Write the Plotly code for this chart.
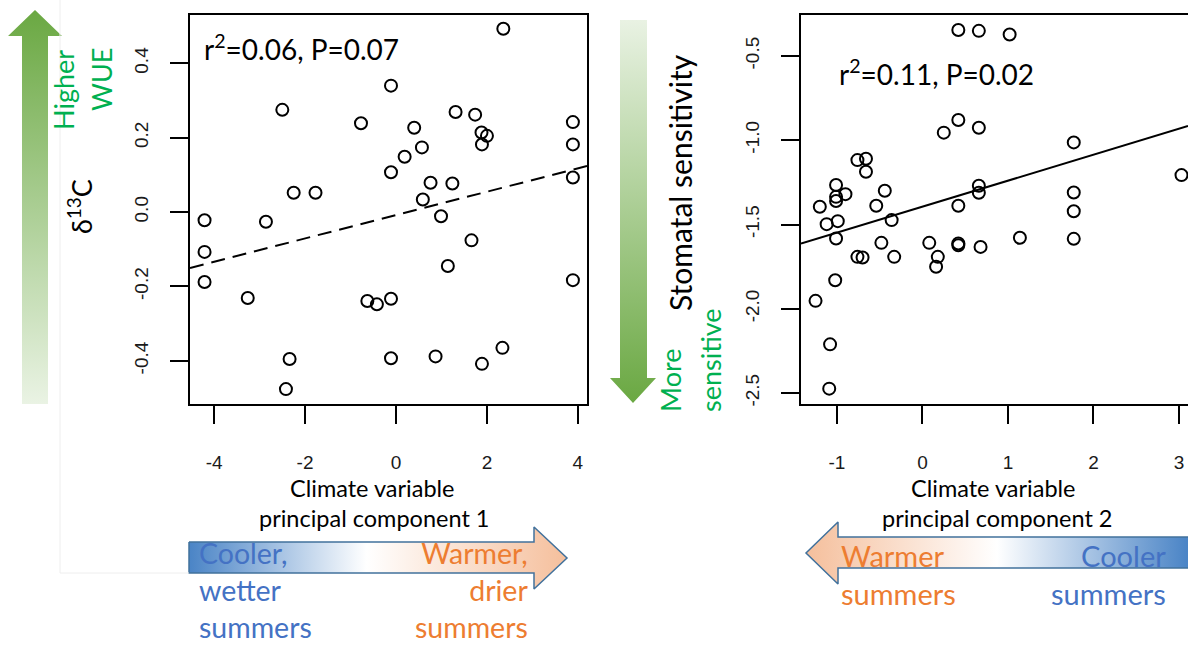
import plotly.graph_objects as go

# ---------------- data ----------------
pc1 = [-4.21, -4.21, -4.21, -2.50, -3.26, -2.86, -2.25, -1.77, -2.34, -2.42,
       -0.77, -0.11, -0.11, -0.63, -0.42, -0.11, -0.11, 0.19, 0.40, 0.57,
       0.59, 0.76, 0.99, 0.87, 1.14, 1.24, 1.31, 1.66, 1.74, 1.88,
       1.89, 2.00, 1.89, 2.34, 2.36, 3.89, 3.89, 3.89, 3.89]
d13c = [-0.022, -0.107, -0.188, 0.275, -0.231, -0.026, 0.052, 0.052, -0.395, -0.476,
        0.239, 0.340, 0.107, -0.239, -0.248, -0.233, -0.393, 0.149, 0.227, 0.174,
        0.034, 0.079, -0.011, -0.388, -0.145, 0.077, 0.269, -0.076, 0.262, 0.214,
        0.182, 0.205, -0.408, -0.365, 0.493, 0.242, 0.182, 0.093, -0.183]

pc2 = [0.42, 0.66, 1.02, 0.42, 0.25, 0.66, 1.77, 1.77, 1.77, 1.77,
       3.03, -0.76, -0.66, -0.66, -1.01, -0.90, -1.01, -1.01, -0.44, -0.54,
       -1.20, -1.12, -0.99, -0.36, -1.01, -0.48, -0.76, -0.70, -0.33, -1.02,
       -1.25, -1.08, -1.09, 0.08, 0.18, 0.16, 0.42, 0.42, 0.42, 0.66,
       0.66, 0.68, 1.14]
stom = [-0.346, -0.351, -0.373, -0.880, -0.955, -0.926, -1.013, -1.310, -1.421, -1.585,
        -1.207, -1.118, -1.110, -1.187, -1.266, -1.320, -1.336, -1.361, -1.300, -1.389,
        -1.395, -1.498, -1.480, -1.474, -1.583, -1.609, -1.692, -1.696, -1.692, -1.831,
        -1.953, -2.211, -2.474, -1.609, -1.692, -1.751, -1.389, -1.613, -1.623, -1.270,
        -1.312, -1.633, -1.579]

fit1_slope, fit1_intercept = 0.0314, -0.008
fit2_slope, fit2_intercept = 0.154, -1.394

x1_ticks = [-4, -2, 0, 2, 4]
x1_ticklabels = ["-4", "-2", "0", "2", "4"]
y1_ticks = [-0.4, -0.2, 0.0, 0.2, 0.4]
y1_ticklabels = ["-0.4", "-0.2", "0.0", "0.2", "0.4"]
x2_ticks = [-1, 0, 1, 2, 3]
x2_ticklabels = ["-1", "0", "1", "2", "3"]
y2_ticks = [-2.5, -2.0, -1.5, -1.0, -0.5]
y2_ticklabels = ["-2.5", "-2.0", "-1.5", "-1.0", "-0.5"]

stat1 = "r<sup>2</sup>=0.06, P=0.07"
stat2 = "r<sup>2</sup>=0.11, P=0.02"

# ---------------- layout constants ----------------
W, H = 1188, 645
X1_RANGE = [-4.53, 4.20]
Y1_RANGE = [-0.516, 0.530]
X2_RANGE = [-1.42, 3.106]
Y2_RANGE = [-2.565, -0.257]

GREEN_TXT = "#00b050"
BLUE_TXT = "#4472c4"
ORANGE_TXT = "#ed7d31"
TXT_FONT = "Lato, 'Open Sans', sans-serif"
TICK_FONT = "'Liberation Sans', Arial, sans-serif"


def px_x(v):
    return v / W


def px_y(v):
    return 1 - v / H


fig = go.Figure()

# ---------- decorative arrows (pixel coordinate overlay axis) ----------
def arrow_trace(xs, ys, gtype, cs, start, stop, line_color=None, lw=0):
    return go.Scatter(
        x=xs + [xs[0]], y=ys + [ys[0]], mode="lines", fill="toself",
        fillgradient=dict(type=gtype, colorscale=cs, start=start, stop=stop),
        line=dict(color=line_color or "rgba(0,0,0,0)", width=lw),
        xaxis="x3", yaxis="y3", hoverinfo="skip", showlegend=False)

# left vertical green arrow (pointing up)
fig.add_trace(arrow_trace(
    [22, 48, 48, 62, 35, 8, 22], [404, 404, 36, 36, 10, 36, 36],
    "vertical", [[0, "#6aa842"], [1, "#eaf3e4"]], 10, 404))
# right vertical green arrow (pointing down)
fig.add_trace(arrow_trace(
    [620, 647, 647, 656, 633, 610, 620], [20, 20, 378, 378, 403, 378, 378],
    "vertical", [[0, "#e9f2e3"], [1, "#6aa842"]], 20, 403))
# left horizontal arrow (pointing right)
fig.add_trace(arrow_trace(
    [189, 534, 534, 567, 534, 534, 189], [542, 542, 527, 558, 589, 573, 573],
    "horizontal", [[0, "#4a84c6"], [0.47, "#ffffff"], [1, "#f5bf9c"]], 189, 567,
    line_color="#41719c", lw=1.5))
# right horizontal arrow (pointing left)
fig.add_trace(arrow_trace(
    [1190, 838, 838, 806, 838, 838, 1190], [537, 537, 522, 553, 584, 568, 568],
    "horizontal", [[0, "#f5bf9c"], [0.5, "#ffffff"], [1, "#4a84c6"]], 806, 1188,
    line_color="#41719c", lw=1.5))

# faint image-border remnants
fig.add_trace(go.Scatter(x=[60, 60, 189], y=[0, 573, 573], mode="lines",
                         line=dict(color="#eeeeee", width=1),
                         xaxis="x3", yaxis="y3", hoverinfo="skip", showlegend=False))

# ---------- scatter plots ----------
marker = dict(symbol="circle-open", size=12, color="black", line=dict(width=2, color="black"))
fig.add_trace(go.Scatter(x=pc1, y=d13c, mode="markers", marker=marker,
                         xaxis="x", yaxis="y", showlegend=False))
fig.add_trace(go.Scatter(x=pc2, y=stom, mode="markers", marker=marker,
                         xaxis="x2", yaxis="y2", showlegend=False))

fx1 = [X1_RANGE[0], X1_RANGE[1]]
fig.add_trace(go.Scatter(x=fx1, y=[fit1_intercept + fit1_slope * v for v in fx1],
                         mode="lines", line=dict(color="black", width=2, dash="14px,8px"),
                         xaxis="x", yaxis="y", showlegend=False))
fx2 = [X2_RANGE[0], X2_RANGE[1]]
fig.add_trace(go.Scatter(x=fx2, y=[fit2_intercept + fit2_slope * v for v in fx2],
                         mode="lines", line=dict(color="black", width=2),
                         xaxis="x2", yaxis="y2", showlegend=False))

axis_common = dict(showgrid=False, zeroline=False, showline=True, linewidth=2,
                   linecolor="black", ticks="outside", ticklen=18, tickwidth=2,
                   tickcolor="black", automargin=False,
                   tickfont=dict(family=TICK_FONT, size=19, color="#1a1a1a"))

fig.update_layout(
    width=W, height=H, margin=dict(l=0, r=0, t=0, b=0),
    paper_bgcolor="white", plot_bgcolor="rgba(0,0,0,0)", showlegend=False,
    xaxis=dict(domain=[px_x(190), px_x(587)], range=X1_RANGE, tickvals=x1_ticks,
               ticktext=x1_ticklabels, mirror=True, anchor="y", ticklabelstandoff=22,
               **axis_common),
    yaxis=dict(domain=[px_y(404), px_y(15)], range=Y1_RANGE, tickvals=y1_ticks,
               ticktext=y1_ticklabels, tickangle=-90, mirror=True, anchor="x",
               ticklabelstandoff=14, **axis_common),
    xaxis2=dict(domain=[px_x(801), 1.0], range=X2_RANGE, tickvals=x2_ticks,
                ticktext=x2_ticklabels, mirror=True, anchor="y2", ticklabelstandoff=22,
                **axis_common),
    yaxis2=dict(domain=[px_y(404), px_y(15)], range=Y2_RANGE, tickvals=y2_ticks,
                ticktext=y2_ticklabels, tickangle=-90, mirror=False, anchor="x2",
                ticklabelstandoff=14, **axis_common),
    xaxis3=dict(domain=[0, 1], range=[0, W], visible=False, anchor="y3", fixedrange=True),
    yaxis3=dict(domain=[0, 1], range=[H, 0], visible=False, anchor="x3", fixedrange=True),
)


def ann(text, x, y, color="black", size=28, angle=0, xanchor="center",
        yanchor="middle", family=TXT_FONT):
    # x, y given in page pixels; placed in paper coordinates so they never get hidden
    fig.add_annotation(text=text, x=px_x(x), y=px_y(y), xref="paper", yref="paper",
                       showarrow=False, textangle=angle, xanchor=xanchor,
                       yanchor=yanchor, borderpad=0,
                       align=xanchor if xanchor != "center" else "center",
                       font=dict(family=family, size=size, color=color))


# stats
ann(stat1, 203, 47, xanchor="left", size=28)
ann(stat2, 838, 72, xanchor="left", size=28)

# left side axis labels
ann("Higher", 63, 90, GREEN_TXT, 27, -90)
ann("WUE", 101, 80, GREEN_TXT, 27, -90)
ann("δ<sup>13</sup>C", 80, 207, "black", 27, -90)

# right side axis labels
ann("Stomatal sensitivity", 680, 182, "black", 30, -90)
ann("More", 670, 380, GREEN_TXT, 27, -90)
ann("sensitive", 710, 360, GREEN_TXT, 27, -90)

# x axis titles
ann("Climate variable", 372, 488, "black", 23.5)
ann("principal component 1", 374, 518, "black", 23.5)
ann("Climate variable", 993, 488, "black", 23.5)
ann("principal component 2", 997, 518, "black", 23.5)

# bottom arrow texts
ann("Cooler,<br>wetter<br>summers", 198, 645, BLUE_TXT, 28.5, xanchor="left", yanchor="bottom")
ann("Warmer,<br>drier<br>summers", 529, 645, ORANGE_TXT, 28.5, xanchor="right", yanchor="bottom")

ann("Warmer<br>summers", 840, 612, ORANGE_TXT, 29, xanchor="left", yanchor="bottom")
ann("Cooler<br>summers", 1167, 612, BLUE_TXT, 29, xanchor="right", yanchor="bottom")

fig.write_html("out.html", config={"displayModeBar": False},
               post_script="document.body.style.margin='0';document.body.style.overflow='hidden';")
